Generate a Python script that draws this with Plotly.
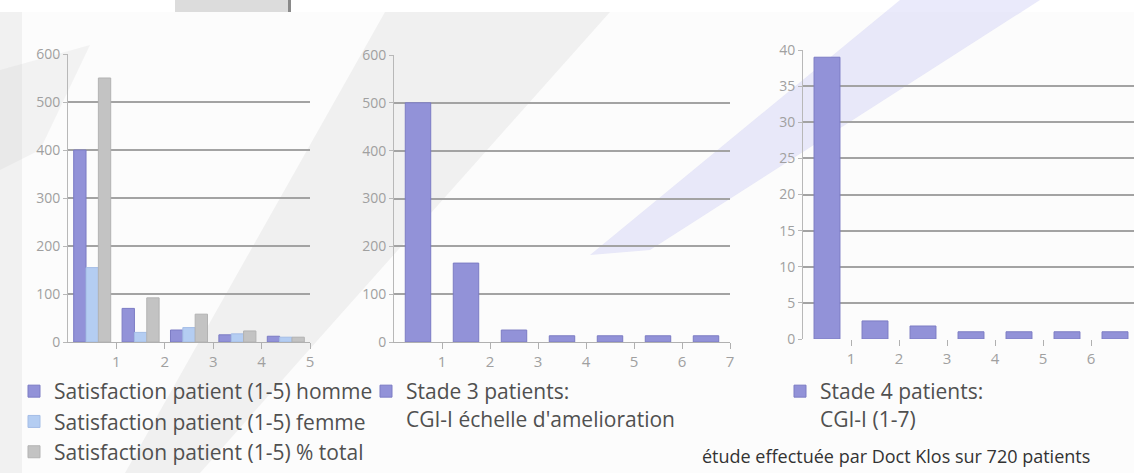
import plotly.graph_objects as go

# ---- data ----
cats1 = [1, 2, 3, 4, 5]
homme = [400, 70, 25, 15, 12]
femme = [155, 20, 30, 17, 10]
total = [550, 92, 58, 23, 10]

cats2 = [1, 2, 3, 4, 5, 6, 7]
stade3 = [500, 165, 25, 13, 13, 13, 13]

cats3 = [1, 2, 3, 4, 5, 6, 7]
stade4 = [39, 2.5, 1.8, 1, 1, 1, 1]

name_h = "Satisfaction patient (1-5) homme"
name_f = "Satisfaction patient (1-5) femme"
name_t = "Satisfaction patient (1-5) % total"
name_s3 = "Stade 3 patients:<br>CGI-I échelle d'amelioration"
name_s4 = "Stade 4 patients:<br>CGI-I (1-7)"
footer = "étude effectuée par Doct Klos sur 720 patients"

W, H = 1134, 473
def px(x):
    return x / W
def py(y):
    return (H - y) / H

PURPLE = "#9292d8"
BLUE = "#b4cdf2"
GRAY = "#c3c3c3"
GRID = "#a3a3a3"
TICK = "#a0a0a0"

fig = go.Figure()

# chart 1 (grouped) - bars sit left of each boundary label
x1 = [c - 0.5 for c in cats1]
fig.add_trace(go.Bar(x=x1, y=homme, name=name_h, marker=dict(color=PURPLE, line=dict(color="#7c7cc4", width=1)),
                     xaxis="x", yaxis="y", legend="legend"))
fig.add_trace(go.Bar(x=x1, y=femme, name=name_f, marker=dict(color=BLUE, line=dict(color="#a4bde6", width=1)),
                     xaxis="x", yaxis="y", legend="legend"))
fig.add_trace(go.Bar(x=x1, y=total, name=name_t, marker=dict(color=GRAY, line=dict(color="#b3b3b3", width=1)),
                     xaxis="x", yaxis="y", legend="legend"))

x2 = [c - 0.5 for c in cats2]
fig.add_trace(go.Bar(x=x2, y=stade3, name=name_s3, width=0.53,
                     marker=dict(color=PURPLE, line=dict(color="#7c7cc4", width=1)),
                     xaxis="x2", yaxis="y2", legend="legend2"))

x3 = [c - 0.5 for c in cats3]
fig.add_trace(go.Bar(x=x3, y=stade4, name=name_s4, width=0.54,
                     marker=dict(color=PURPLE, line=dict(color="#7c7cc4", width=1)),
                     xaxis="x3", yaxis="y3", legend="legend3"))

tickfont_y = dict(family="Open Sans", size=14, color=TICK)
tickfont_x = dict(family="Open Sans", size=15, color=TICK)

def xax(dom, rng, vals, showline=True):
    return dict(domain=dom, range=rng, tickvals=vals, ticktext=[str(v) for v in vals],
                showgrid=False, zeroline=False, showline=showline, linecolor="#b0b0b0", linewidth=1,
                ticks="outside", ticklen=6, tickcolor="#b0b0b0", tickfont=tickfont_x,
                fixedrange=True, automargin=False)

def yax(dom, rng, dtick, anchor):
    return dict(domain=dom, range=rng, dtick=dtick, anchor=anchor,
                showgrid=True, gridcolor=GRID, gridwidth=1.8, zeroline=False,
                showline=True, linecolor="#b8b8b8", linewidth=1,
                ticks="outside", ticklen=4, tickcolor="#b8b8b8", tickfont=tickfont_y,
                fixedrange=True, automargin=False)

n3 = (W - 803) / 48.0

legend_font = dict(family="Open Sans", size=21, color="#505050")
leg_common = dict(xref="container", yref="container", xanchor="left", yanchor="top",
                  font=legend_font, bgcolor="rgba(0,0,0,0)", itemclick=False, itemdoubleclick=False)

fig.update_layout(
    width=W, height=H, autosize=False,
    margin=dict(l=0, r=0, t=0, b=0, autoexpand=False),
    paper_bgcolor="#fcfcfc", plot_bgcolor="rgba(0,0,0,0)",
    barmode="group", bargap=0.235, bargroupgap=0,
    xaxis=xax([px(68), px(310)], [0, 5], cats1),
    yaxis=yax([py(342), py(54)], [0, 600], 100, "x"),
    xaxis2=xax([px(394), px(730)], [0, 7], cats2),
    yaxis2=yax([py(342), py(55)], [0, 600], 100, "x2"),
    xaxis3=dict(xax([px(803), 1.0], [0, n3], cats3, showline=False), anchor="y3"),
    yaxis3=yax([py(339), py(50)], [0, 40], 5, "x3"),
    legend=dict(leg_common, x=px(14), y=py(371), tracegroupgap=0),
    legend2=dict(leg_common, x=px(366), y=py(371), valign="top"),
    legend3=dict(leg_common, x=px(780), y=py(371), valign="top"),
    showlegend=True,
)
fig.update_layout(xaxis2_anchor="y2")

# footer note
fig.add_annotation(text=footer, xref="paper", yref="paper", x=px(700), y=py(456),
                   xanchor="left", yanchor="middle", showarrow=False,
                   font=dict(family="Open Sans", size=18, color="#333333"))

# decorative background
shapes = [
    dict(type="rect", xref="paper", yref="paper", x0=0, x1=1, y0=py(12), y1=1,
         fillcolor="#ffffff", line=dict(width=0), layer="below"),
    dict(type="rect", xref="paper", yref="paper", x0=0, x1=px(22), y0=0, y1=py(12),
         fillcolor="#f1f1f1", line=dict(width=0), layer="below"),
    dict(type="rect", xref="paper", yref="paper", x0=px(175), x1=px(290), y0=py(12), y1=1,
         fillcolor="#dcdcdc", line=dict(width=0), layer="below"),
    dict(type="rect", xref="paper", yref="paper", x0=px(288), x1=px(291), y0=py(12), y1=1,
         fillcolor="#8a8a8a", line=dict(width=0), layer="below"),
    dict(type="path", xref="paper", yref="paper",
         path=f"M {px(385)} {py(12)} L {px(610)} {py(12)} L {px(300)} {py(360)} L {px(200)} {py(473)} L {px(125)} {py(473)} Z",
         fillcolor="rgba(190,190,190,0.18)", line=dict(width=0), layer="below"),
    dict(type="path", xref="paper", yref="paper",
         path=f"M {px(900)} 1 L {px(1040)} 1 L {px(650)} {py(250)} L {px(590)} {py(255)} Z",
         fillcolor="rgba(170,170,240,0.25)", line=dict(width=0), layer="below"),
    dict(type="path", xref="paper", yref="paper",
         path=f"M {px(0)} {py(70)} L {px(90)} {py(45)} L {px(40)} {py(150)} L {px(0)} {py(170)} Z",
         fillcolor="rgba(200,200,200,0.18)", line=dict(width=0), layer="below"),
]
fig.update_layout(shapes=shapes)

fig.write_html("out.html", config={"displayModeBar": False},
               post_script="document.body.style.margin='0';document.body.style.overflow='hidden';")
